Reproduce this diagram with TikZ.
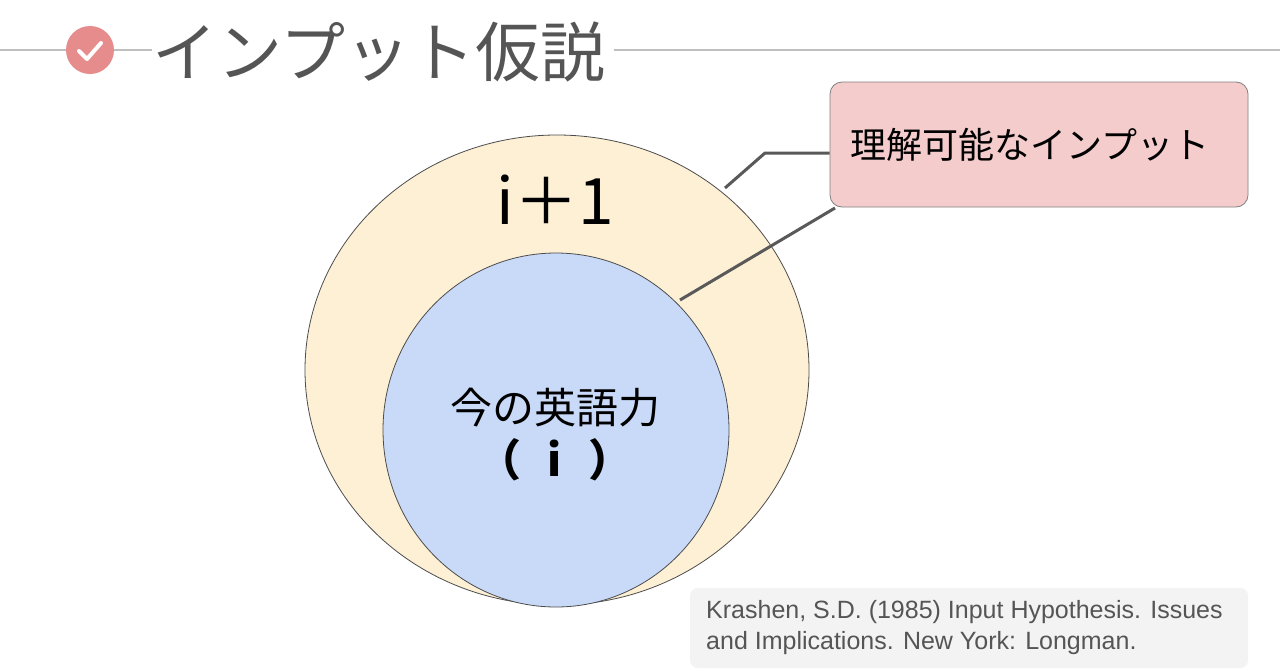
\documentclass[tikz,border=0pt]{standalone}
\usepackage{fontspec}
\setmainfont{Liberation Sans}
\newfontfamily\cjk{Noto Sans CJK JP}
\begin{document}
\begin{tikzpicture}[x=1pt,y=-1pt,
  lbl/.style={inner sep=0pt, font=\cjk}]
\useasboundingbox (0,0) rectangle (1280,670);
\fill[white] (0,0) rectangle (1280,670);
% title line
\draw[gray!50, line width=1.5pt] (0,50) -- (68,50);
\draw[gray!50, line width=1.5pt] (112,50) -- (152,50);
\draw[gray!50, line width=1.5pt] (614,50) -- (1280,50);
\node[circle, fill={rgb,255:red,230;green,140;blue,140}, minimum size=48pt, inner sep=0pt] (icon) at (90,50) {};
\draw[white, line width=4pt, line cap=round, line join=round] (79,51) -- (87,59) -- (101,43);
\node[lbl, anchor=west, text={rgb,255:red,85;green,85;blue,85}, font=\cjk\fontsize{65}{68}\selectfont] (title) at (152,52) {インプット仮説};
% circles
\draw[fill={rgb,255:red,253;green,240;blue,213}, draw=gray!60!black, line width=0.8pt] (557,370) ellipse [x radius=252, y radius=235];
\draw[fill={rgb,255:red,201;green,218;blue,248}, draw=gray!60!black, line width=0.8pt] (556,430) ellipse [x radius=173, y radius=177];
\node[lbl, font=\cjk\fontsize{64}{68}\selectfont] (ip1) at (555,200) {i＋1};
\node[lbl, font=\cjk\fontsize{42}{46}\selectfont] (now) at (555,408) {今の英語力};
\node[lbl, font=\cjk\bfseries\fontsize{44}{48}\selectfont] (i) at (555,460) {（\hspace*{26pt}i\hspace*{26pt}）};
% box
\node[draw=gray, fill={rgb,255:red,244;green,204;blue,204}, rounded corners=12pt, minimum width=418pt, minimum height=125pt, line width=0.8pt] (box) at (1039,144.5) {};
\node[lbl, font=\cjk\fontsize{36}{40}\selectfont] (boxt) at (1030,145) {理解可能なインプット};
\coordinate (c1) at (725,188);
\coordinate (c2) at (680,300);
\draw[gray!70!black, line width=3pt] (c1) -- (765,153) -- (box.west |- 0,153);
\draw[gray!70!black, line width=3pt] (c2) -- (835,208);
% citation
\node[fill={rgb,255:red,243;green,243;blue,243}, rounded corners=8pt, minimum width=558pt, minimum height=80pt, inner sep=0pt] (cit) at (969,628) {};
\node[anchor=west, align=left, inner sep=0pt, text={rgb,255:red,85;green,85;blue,85}, font=\fontsize{25}{31}\selectfont] (citt) at (706,628) {Krashen, S.D. (1985) Input Hypothesis. Issues\\and Implications. New York: Longman.};
\end{tikzpicture}
\end{document}
